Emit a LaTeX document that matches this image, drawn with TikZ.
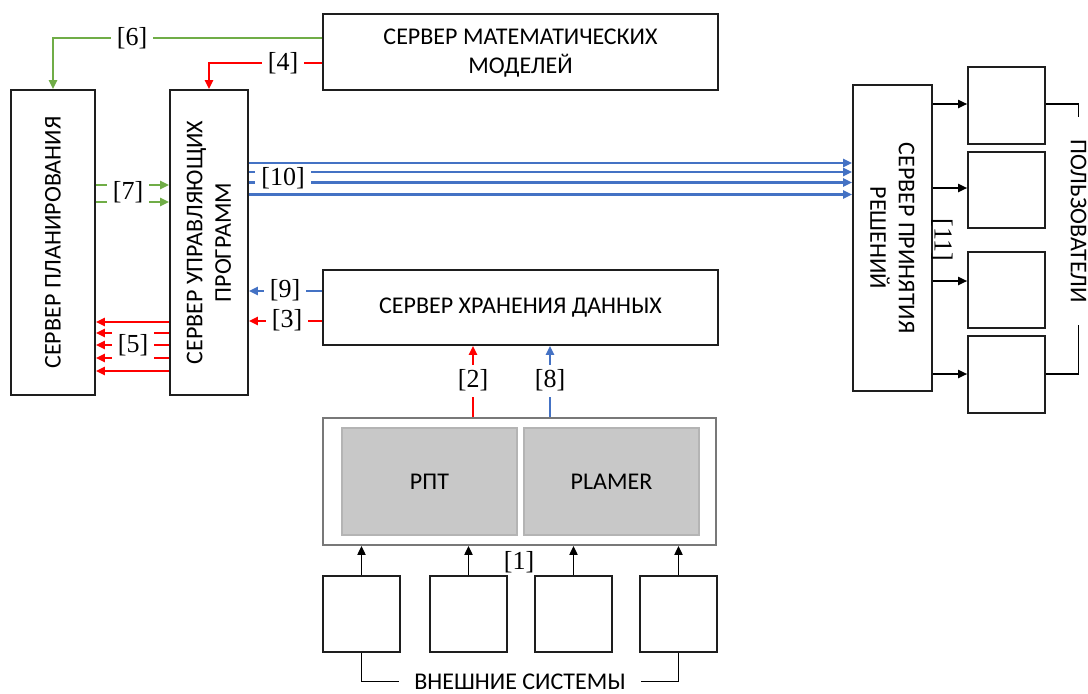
\documentclass[tikz,border=0pt]{standalone}
\usepackage{fontspec}
\setmainfont{Carlito}
\newfontfamily\labfont{Liberation Serif}
\usetikzlibrary{arrows.meta,calc}
\definecolor{cgreen}{RGB}{112,173,71}
\definecolor{cblue}{RGB}{68,114,196}
\definecolor{cred}{RGB}{255,0,0}
\definecolor{cfill}{RGB}{200,200,200}
\definecolor{cfdraw}{RGB}{180,180,180}
\definecolor{cbord}{RGB}{120,120,120}
\definecolor{cbox}{RGB}{30,30,30}
\tikzset{
  box/.style={draw=cbox, line width=1.6pt, fill=white, inner sep=0pt},
  cbx/.style={draw=cbord, line width=1.7pt, fill=white, inner sep=0pt},
  gbox/.style={draw=cfdraw, line width=1.2pt, fill=cfill, inner sep=0pt},
  txt/.style={inner sep=0pt, align=center, font=\fontsize{24}{28.5}\selectfont},
  lab/.style={fill=white, inner xsep=6pt, inner ysep=1pt, text height=19pt, text depth=6.5pt, font=\labfont\fontsize{26}{28}\selectfont},
  plainlab/.style={inner sep=0pt, font=\labfont\fontsize{26}{28}\selectfont},
  arw/.style={-{Triangle[length=9pt,width=8pt]}, line width=2.2pt},
  gr/.style={arw, draw=cgreen},
  rd/.style={arw, draw=cred},
  bl/.style={arw, draw=cblue},
  bk/.style={-{Triangle[length=9pt,width=8pt]}, line width=1.8pt, draw=black},
  bkline/.style={line width=1.8pt, draw=black},
}
\begin{document}
\begin{tikzpicture}[x=1pt,y=-1pt]
\useasboundingbox (0,0) rectangle (1088,694);

% boxes
\node[box, minimum width=395pt, minimum height=76pt] (math) at (520.5,52) {};
\node[txt] at (520.5,53) {СЕРВЕР МАТЕМАТИЧЕСКИХ\\МОДЕЛЕЙ};
\node[box, minimum width=84pt, minimum height=305pt] (plan) at (53,242.5) {};
\node[txt, rotate=90] at (plan) {СЕРВЕР ПЛАНИРОВАНИЯ};
\node[box, minimum width=78pt, minimum height=305pt] (ctrl) at (209,242.5) {};
\node[txt, rotate=90] at (ctrl) {СЕРВЕР УПРАВЛЯЮЩИХ\\ПРОГРАММ};
\node[box, minimum width=395pt, minimum height=75pt] (store) at (520.5,307.5) {};
\node[txt] at (store) {СЕРВЕР ХРАНЕНИЯ ДАННЫХ};
\node[cbx, minimum width=393pt, minimum height=127pt] (cont) at (519.5,481.5) {};
\node[gbox, minimum width=175pt, minimum height=107pt] (rpt) at (429.5,481.5) {};
\node[txt] at (rpt) {РПТ};
\node[gbox, minimum width=175pt, minimum height=107pt] (plamer) at (611.5,481.5) {};
\node[txt] at (plamer) {PLAMER};
\node[box, minimum width=79pt, minimum height=306pt] (dec) at (892.5,238) {};
\node[txt, rotate=-90] at (dec) {СЕРВЕР ПРИНЯТИЯ\\РЕШЕНИЙ};

% external systems
\foreach \i/\x in {1/361.5,2/468.5,3/573.5,4/678.5}{
  \node[box, minimum width=77pt, minimum height=76pt] (e\i) at (\x,614) {};
  \draw[bk] (e\i.north) -- (e\i.north |- cont.south);
}
\node[txt, inner xsep=15pt, inner ysep=0pt] (exttxt) at (520,681.5) {ВНЕШНИЕ СИСТЕМЫ};
\draw[bkline] (e1.south) |- (exttxt.west);
\draw[bkline] (e4.south) |- (exttxt.east);
\node[plainlab] (l1) at (519,562) {[1]};

% users
\node[box, minimum width=77pt, minimum height=77pt] (u1) at (1006.5,105.5) {};
\node[box, minimum width=77pt, minimum height=76pt] (u2) at (1006.5,190) {};
\node[box, minimum width=77pt, minimum height=76pt] (u3) at (1006.5,290) {};
\node[box, minimum width=77pt, minimum height=77pt] (u4) at (1006.5,374.5) {};
\draw[bk] (dec.east |- 0,104) -- (u1.west |- 0,104);
\draw[bk] (dec.east |- 0,188) -- (u2.west |- 0,188);
\draw[bk] (dec.east |- 0,281) -- (u3.west |- 0,281);
\draw[bk] (dec.east |- 0,374) -- (u4.west |- 0,374);
\node[txt, rotate=-90, inner xsep=22pt, inner ysep=0pt] (usr) at (1078.5,221) {ПОЛЬЗОВАТЕЛИ};
\draw[bkline] (u1.east |- 0,104) -| (usr.west);
\draw[bkline] (u4.east |- 0,374) -| (usr.east);
\node[plainlab, rotate=-90] (l11) at (942,240) {[11]};

% [6] and [4]
\draw[gr] (math.west |- 0,38) -| (plan.north);
\node[lab] (l6) at (132,39) {[6]};
\draw[rd] (math.west |- 0,63) -| (ctrl.north);
\node[lab] (l4) at (283,64) {[4]};

% [7]
\draw[gr] (plan.east |- 0,185) -- (ctrl.west |- 0,185);
\draw[gr] (plan.east |- 0,202) -- (ctrl.west |- 0,202);
\node[lab] (l7) at (128,193) {[7]};

% [5]
\foreach \y in {322,333,345,358,371}{
  \draw[rd] (ctrl.west |- 0,\y) -- (plan.east |- 0,\y);
}
\node[lab, minimum height=32pt] (l5) at (133,346) {[5]};

% [10]
\foreach \y in {163,172,182.5,194.5}{
  \draw[bl] (ctrl.east |- 0,\y) -- (dec.west |- 0,\y);
}
\node[lab] (l10) at (283,179) {[10]};

% [9] and [3]
\draw[bl] (store.west |- 0,291) -- (ctrl.east |- 0,291);
\node[lab] (l9) at (285,291) {[9]};
\draw[rd] (store.west |- 0,321) -- (ctrl.east |- 0,321);
\node[lab] (l3) at (287,321) {[3]};

% [2] and [8]
\draw[rd] (cont.north -| 473,0) -- (store.south -| 473,0);
\node[lab, inner ysep=3pt] (l2) at (473,381) {[2]};
\draw[bl] (cont.north -| 550,0) -- (store.south -| 550,0);
\node[lab, inner ysep=3pt] (l8) at (550,381) {[8]};
\end{tikzpicture}
\end{document}
